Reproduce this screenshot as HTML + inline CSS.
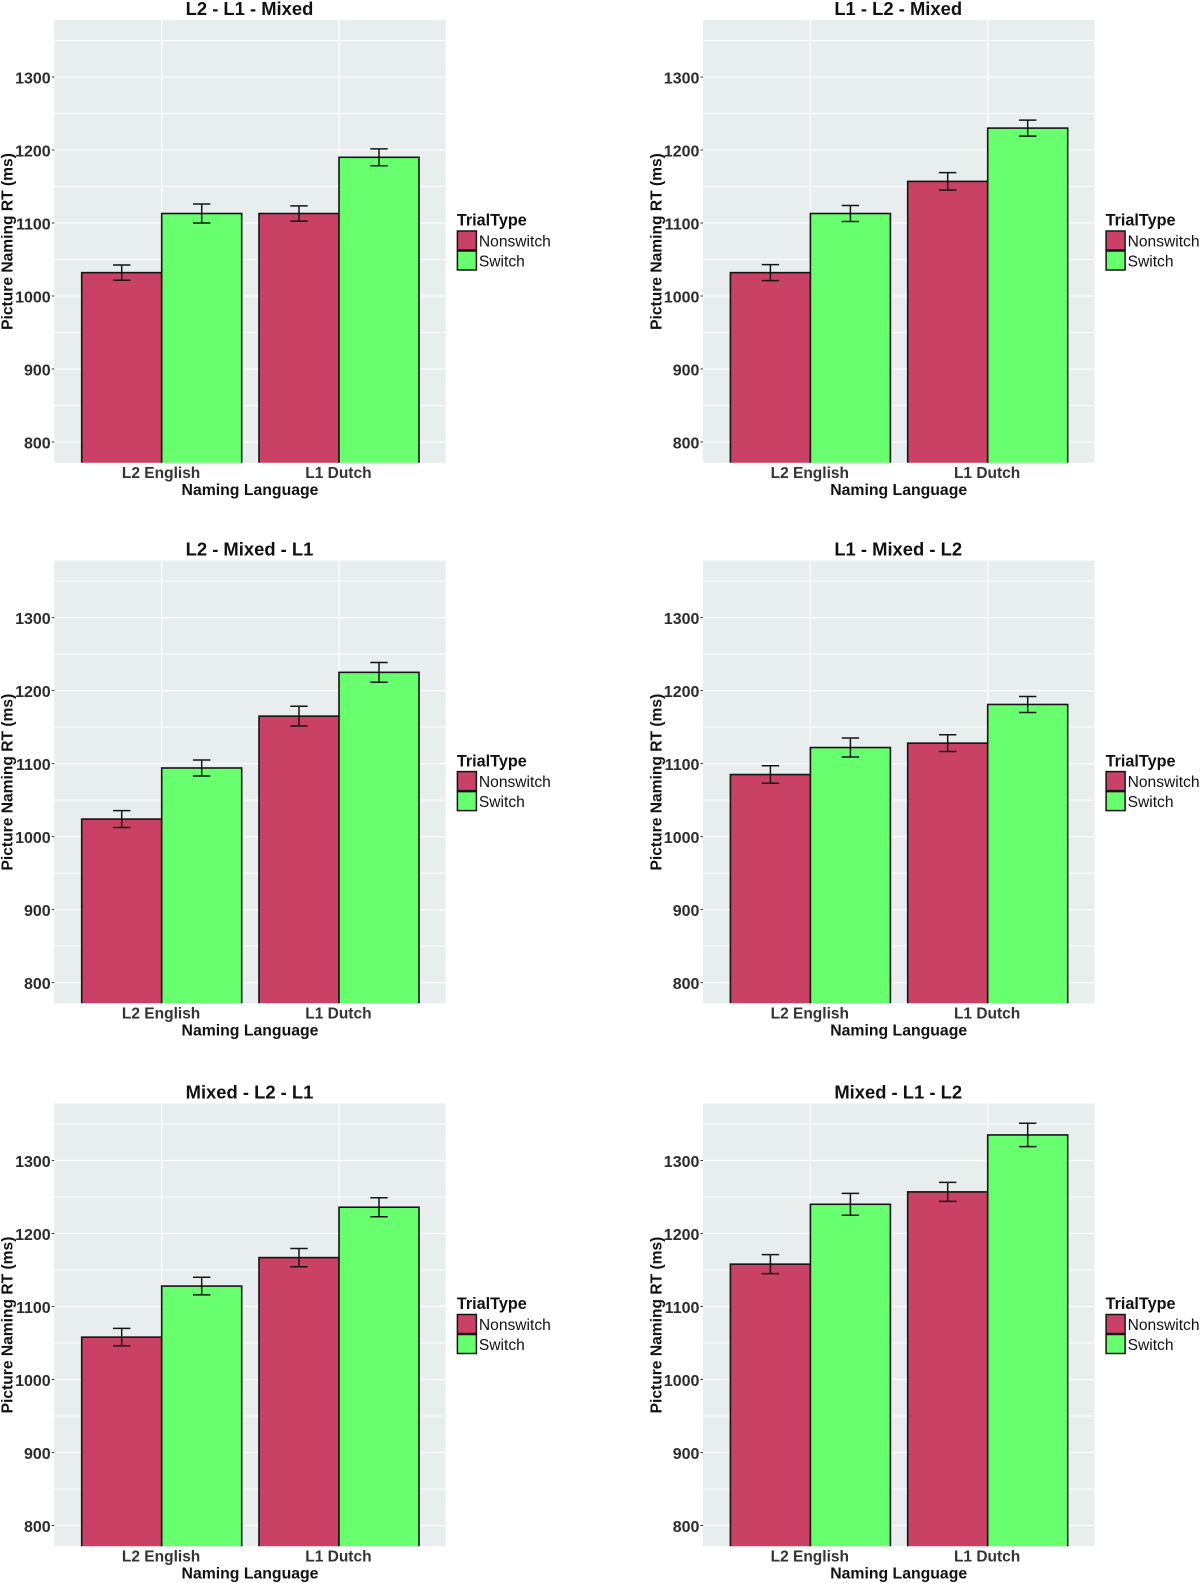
<!DOCTYPE html>
<html lang="en">
<head>
<meta charset="utf-8">
<title>Picture Naming RT panels</title>
<style>
html,body{margin:0;padding:0;background:#fff;}
svg{display:block;}
text{font-family:"Liberation Sans",Arial,sans-serif;}
</style>
</head>
<body>
<svg id="chart" xmlns="http://www.w3.org/2000/svg" width="1200" height="1583" viewBox="0 0 1200 1583"></svg>
<script>
const panelTitles = ["L2 - L1 - Mixed", "L1 - L2 - Mixed", "L2 - Mixed - L1", "L1 - Mixed - L2", "Mixed - L2 - L1", "Mixed - L1 - L2"];
const categories = ["L2 English", "L1 Dutch"];
const seriesNames = ["Nonswitch", "Switch"];
const nonswitchValues = [[1032, 1113], [1032, 1157], [1024, 1165], [1085, 1128], [1058, 1167], [1158, 1257]];
const switchValues = [[1113, 1190], [1113, 1230], [1094, 1225], [1122, 1181], [1128, 1236], [1240, 1335]];
const nonswitchErrors = [[10.5, 10.5], [11, 12], [11.5, 13.5], [12, 11.5], [12, 12.5], [13, 13]];
const switchErrors = [[13, 11.5], [11, 11], [11, 13.5], [13, 11], [12, 13], [15, 16]];
const tickLabels = [800, 900, 1000, 1100, 1200, 1300];
const minorGridValues = [850, 950, 1050, 1150, 1250, 1350];
const yAxisTitle = "Picture Naming RT (ms)";
const xAxisTitle = "Naming Language";
const legendTitle = "TrialType";

const svg = document.getElementById('chart');
const NS = 'http://www.w3.org/2000/svg';
const colors = ["#C94165", "#68FF6F"];
const colLeft = [54.3, 703];
const rowTop = [20, 560.6, 1103.5];
const panelW = 391.4, panelH = 442.7;

function make(tag, parent, attrs, txt) {
  const el = document.createElementNS(NS, tag);
  for (const k in attrs) el.setAttribute(k, attrs[k]);
  if (txt !== undefined) el.textContent = txt;
  parent.appendChild(el);
  return el;
}

const defs = make('defs', svg, {});

panelTitles.forEach(function (title, p) {
  const L = colLeft[p % 2];
  const T = rowTop[Math.floor(p / 2)];
  const R = L + panelW, B = T + panelH;
  const yScale = function (v) { return T + 422 - (v - 800) * 0.73; };
  const xScale = function (pos) { return L + 107.4 + pos * 177.3; };
  const barW = 80, capHalf = 8.7;

  const clip = make('clipPath', defs, {id: 'panel-clip-' + p});
  make('rect', clip, {x: L, y: T, width: panelW, height: panelH});

  const g = make('g', svg, {});
  
  

  const bg = make('rect', g, {x: L, y: T, width: panelW, height: panelH, fill: '#E8EDED'});
  
  

  minorGridValues.forEach(function (v) {
    const gl = make('line', g, {x1: L, x2: R, y1: yScale(v), y2: yScale(v), stroke: '#fff', 'stroke-width': 1});
    
    
  });
  tickLabels.forEach(function (v) {
    const gl = make('line', g, {x1: L, x2: R, y1: yScale(v), y2: yScale(v), stroke: '#fff', 'stroke-width': 1.3});
    
    
    const tk = make('line', g, {x1: L - 2.5, x2: L, y1: yScale(v), y2: yScale(v), stroke: '#333', 'stroke-width': 1});
    
    
    const lb = make('text', g, {x: L - 3.6, y: yScale(v) + 6.3, 'text-anchor': 'end', 'font-size': 16, 'font-weight': 700, fill: '#2b2b2b'}, String(v));
    
    
  });
  categories.forEach(function (c, i) {
    const gl = make('line', g, {x1: xScale(i), x2: xScale(i), y1: T, y2: B, stroke: '#fff', 'stroke-width': 1.3});
    
    
  });

  const plot = make('g', g, {'clip-path': 'url(#panel-clip-' + p + ')'});
  
  

  [nonswitchValues[p], switchValues[p]].forEach(function (vals, s) {
    const errs = s === 0 ? nonswitchErrors[p] : switchErrors[p];
    vals.forEach(function (v, i) {
      const x0 = xScale(i) + (s === 0 ? -barW : 0);
      const bar = make('rect', plot, {x: x0, y: yScale(v), width: barW, height: B + 5 - yScale(v), fill: colors[s], stroke: '#151515', 'stroke-width': 1.6});
      
      
    });
    vals.forEach(function (v, i) {
      const cx = xScale(i) + (s === 0 ? -barW / 2 : barW / 2);
      const y1 = yScale(v + errs[i]), y2 = yScale(v - errs[i]);
      const eb = make('path', plot, {
        d: 'M' + (cx - capHalf) + ' ' + y1 + 'H' + (cx + capHalf) + 'M' + cx + ' ' + y1 + 'V' + y2 + 'M' + (cx - capHalf) + ' ' + y2 + 'H' + (cx + capHalf),
        fill: 'none', stroke: '#151515', 'stroke-width': 1.5
      });
      
      
    });
  });

  categories.forEach(function (c, i) {
    const lb = make('text', g, {x: xScale(i) - 0.6, y: B + 15.4, 'text-anchor': 'middle', 'font-size': 15.5, 'font-weight': 700, fill: '#333'}, c);
    
    
  });

  const tt = make('text', g, {x: L + 195.2, y: T - 5, 'text-anchor': 'middle', 'font-size': 18.4, 'font-weight': 700, fill: '#111'}, title);
  
  

  const xt = make('text', g, {x: L + 195.7, y: B + 32.4, 'text-anchor': 'middle', 'font-size': 15.8, 'font-weight': 700, fill: '#111'}, xAxisTitle);
  
  

  const ycx = L - 41.6, ycy = T + 221.5;
  const yt = make('text', g, {x: ycx, y: ycy, 'text-anchor': 'middle', 'font-size': 15.6, 'font-weight': 700, fill: '#111', transform: 'rotate(-90 ' + ycx + ' ' + ycy + ')'}, yAxisTitle);
  
  

  const lg = make('g', g, {});
  
  
  const lgX = L + 402.6;
  const lt = make('text', lg, {x: lgX, y: T + 205.7, 'font-size': 16.2, 'font-weight': 700, fill: '#111'}, legendTitle);
  
  
  seriesNames.forEach(function (n, s) {
    const ky = T + 210.5 + s * 20;
    const key = make('rect', lg, {x: lgX + 0.5, y: ky + 0.5, width: 19, height: 19, fill: colors[s], stroke: '#151515', 'stroke-width': 1.5});
    
    
    const kl = make('text', lg, {x: lgX + 22, y: ky + 16, 'font-size': 15.6, fill: '#111'}, n);
    
    
  });
});
</script>
</body>
</html>
